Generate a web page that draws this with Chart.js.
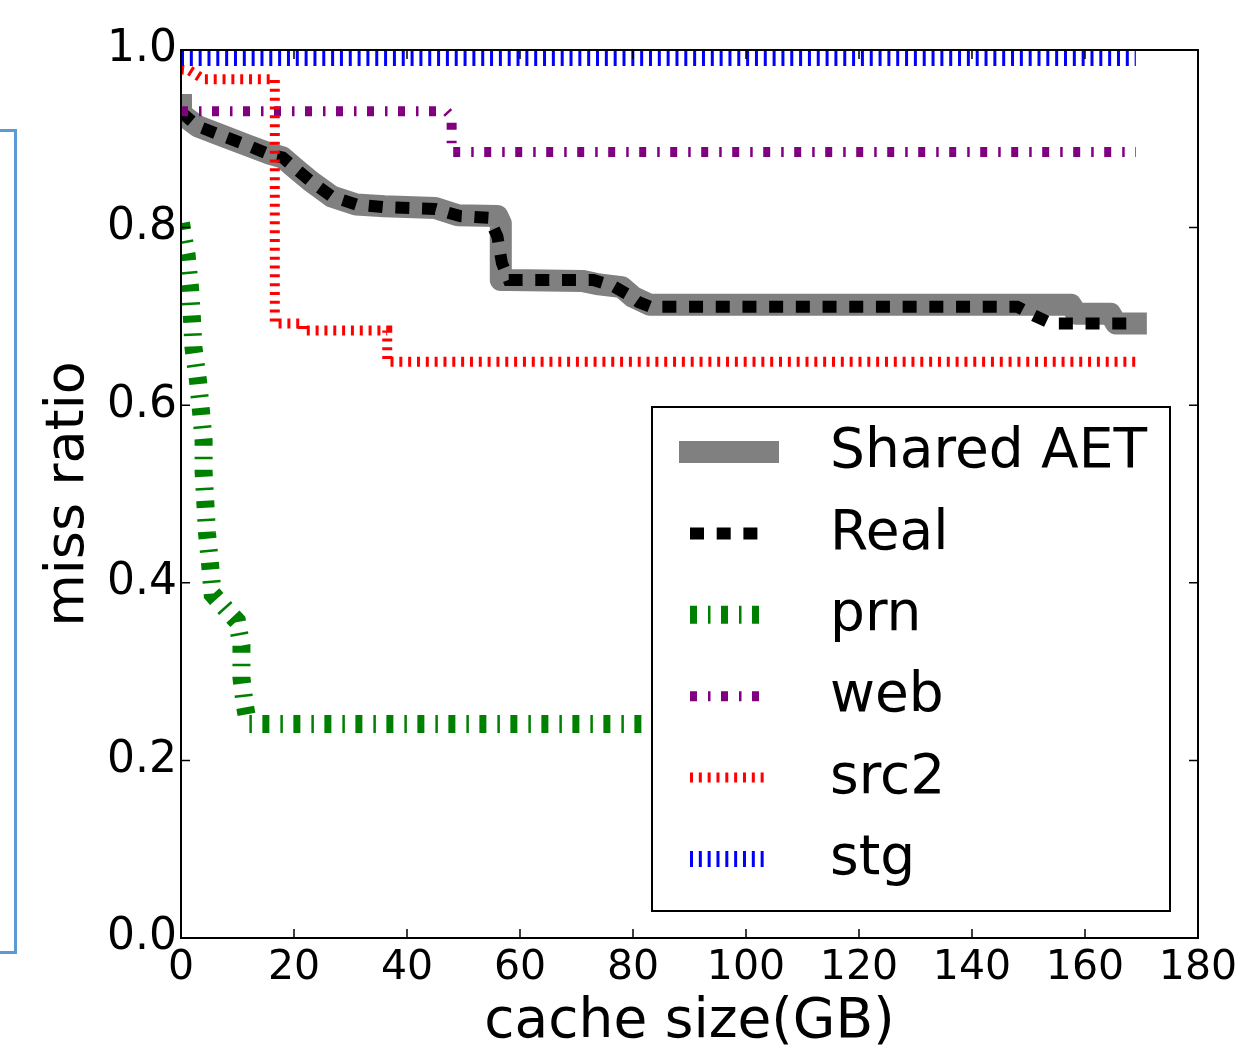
<!DOCTYPE html>
<html lang="en">
<head>
    <meta charset="UTF-8">
    <title>Miss ratio vs cache size</title>
    <script src="https://cdn.jsdelivr.net/npm/chart.js"></script>
    <style>
        body {
            margin: 0;
            background: #fff;
        }
        #wrap {
            position: relative;
            width: 1244px;
            height: 1050px;
            overflow: hidden;
        }
        #bracket {
            position: absolute;
            left: -3px;
            top: 129px;
            width: 14px;
            height: 819px;
            border: 3px solid #5b9bd5;
        }
        #missChart {
            position: absolute;
            left: 0;
            top: 0;
        }
    </style>
</head>
<body>
<div id="wrap">
    <div id="bracket"></div>
    <canvas id="missChart" width="1244" height="1050"></canvas>
</div>

<script>
    // tick labels
    const xTicks = [0, 20, 40, 60, 80, 100, 120, 140, 160, 180];
    const yTickLabels = ['0.0', '0.2', '0.4', '0.6', '0.8', '1.0'];

    // Shared AET (gray band)
    const aetX = [0, 0, 3, 7.5, 11.6, 15.8, 18, 20, 23, 26.7, 31, 36, 45, 49, 56, 56.6, 56.6, 58, 71, 74, 78, 80, 83, 157.5, 158.5, 164.5, 165.5, 169];
    const aetY = [0.938, 0.928, 0.914, 0.903, 0.893, 0.883, 0.879, 0.868, 0.852, 0.835, 0.826, 0.824, 0.822, 0.814, 0.813, 0.805, 0.741, 0.741, 0.740, 0.736, 0.733, 0.722, 0.713, 0.713, 0.703, 0.703, 0.692, 0.692];

    // Real
    const realX = [0, 3, 7.5, 11.6, 15.8, 18, 20, 23, 26.7, 31, 36, 45, 49.4, 54.5, 56, 56.8, 58, 73, 76.5, 79, 81, 83, 148, 151, 154, 169];
    const realY = [0.930, 0.914, 0.903, 0.893, 0.882, 0.879, 0.868, 0.852, 0.835, 0.826, 0.823, 0.821, 0.813, 0.811, 0.790, 0.760, 0.741, 0.741, 0.734, 0.725, 0.716, 0.711, 0.711, 0.701, 0.692, 0.692];

    // prn
    const prnX = [0, 1.0, 1.6, 1.9, 2.2, 3.0, 3.5, 4.0, 4.0, 4.3, 4.6, 5.1, 5.6, 8, 9.9, 10.7, 10.7, 11.3, 11.9, 169];
    const prnY = [0.805, 0.769, 0.732, 0.702, 0.665, 0.628, 0.596, 0.560, 0.525, 0.491, 0.456, 0.424, 0.387, 0.370, 0.357, 0.329, 0.293, 0.262, 0.241, 0.241];

    // web
    const webX = [0, 47, 47.9, 47.9, 169];
    const webY = [0.931, 0.931, 0.925, 0.885, 0.885];

    // src2
    const src2X = [0, 1.5, 4, 16.6, 16.6, 21.5, 21.5, 36.5, 36.5, 169];
    const src2Y = [0.978, 0.977, 0.967, 0.967, 0.692, 0.692, 0.684, 0.684, 0.649, 0.649];

    // stg
    const stgX = [0, 169];
    const stgY = [0.991, 0.991];

    function pts(xs, ys) {
        return xs.map((x, i) => ({ x: x, y: ys[i] }));
    }

    const series = [
        { label: 'Shared AET', data: pts(aetX, aetY), color: '#808080', width: 22, dash: [], cap: 'square', join: 'round' },
        { label: 'Real', data: pts(realX, realY), color: '#000000', width: 12, dash: [14, 12.7], cap: 'butt', join: 'miter' },
        { label: 'prn', data: pts(prnX, prnY), color: '#008000', width: 18, dash: [7, 11, 2.5, 10.5], cap: 'butt', join: 'miter' },
        { label: 'web', data: pts(webX, webY), color: '#800080', width: 10, dash: [7, 11, 2.5, 10.5], cap: 'butt', join: 'miter' },
        { label: 'src2', data: pts(src2X, src2Y), color: '#ff0000', width: 10, dash: [3, 5.83], cap: 'butt', join: 'miter' },
        { label: 'stg', data: pts(stgX, stgY), color: '#0000ff', width: 16, dash: [3, 5.83], cap: 'butt', join: 'miter' }
    ];

    const FONT = 'DejaVu Sans';

    // frame, inner ticks and the boxed legend drawn over the lines
    const framePlugin = {
        id: 'frame',
        afterDatasetsDraw(chart) {
            const ctx = chart.ctx;
            const ca = chart.chartArea;
            const xs = chart.scales.x, ys = chart.scales.y;
            ctx.save();
            ctx.setLineDash([]);
            ctx.strokeStyle = '#000';

            // inner ticks on all four sides
            ctx.lineWidth = 1.5;
            ctx.beginPath();
            xs.ticks.forEach(t => {
                const px = xs.getPixelForValue(t.value);
                ctx.moveTo(px, ca.bottom); ctx.lineTo(px, ca.bottom - 9);
                ctx.moveTo(px, ca.top); ctx.lineTo(px, ca.top + 9);
            });
            ys.ticks.forEach(t => {
                const py = ys.getPixelForValue(t.value);
                ctx.moveTo(ca.left, py); ctx.lineTo(ca.left + 9, py);
                ctx.moveTo(ca.right, py); ctx.lineTo(ca.right - 9, py);
            });
            ctx.stroke();

            ctx.lineWidth = 2;
            ctx.strokeRect(ca.left, ca.top, ca.right - ca.left, ca.bottom - ca.top);

            // legend
            const lx = ca.right - 546, ly = ca.top + 357, lw = 518, lh = 504;
            ctx.fillStyle = '#fff';
            ctx.fillRect(lx, ly, lw, lh);
            ctx.lineWidth = 2;
            ctx.strokeRect(lx, ly, lw, lh);

            ctx.font = '55px "' + FONT + '"';
            ctx.textBaseline = 'middle';
            ctx.textAlign = 'left';
            series.forEach((s, i) => {
                const cy = ly + 45 + i * 81.4;
                ctx.beginPath();
                ctx.moveTo(lx + 38, cy);
                ctx.lineTo(lx + 116, cy);
                ctx.setLineDash(s.dash);
                ctx.lineCap = s.cap;
                ctx.lineWidth = s.width;
                ctx.strokeStyle = s.color;
                ctx.stroke();
                ctx.setLineDash([]);
                ctx.fillStyle = '#000';
                ctx.fillText(s.label, lx + 178, cy + 1);
            });
            ctx.restore();
        }
    };

    const ctx = document.getElementById('missChart').getContext('2d');
    const missChart = new Chart(ctx, {
        type: 'scatter',
        data: {
            datasets: series.map((s, i) => ({
                label: s.label,
                data: s.data,
                showLine: true,
                borderColor: s.color,
                backgroundColor: s.color,
                borderWidth: s.width,
                borderDash: s.dash,
                borderCapStyle: s.cap,
                borderJoinStyle: s.join,
                pointRadius: 0,
                tension: 0,
                fill: false,
                clip: 0,
                order: series.length - i
            }))
        },
        options: {
            responsive: false,
            animation: false,
            events: [],
            layout: { padding: { top: 50, right: 46, bottom: 0, left: 0 } },
            plugins: {
                legend: { display: false },
                tooltip: { enabled: false }
            },
            scales: {
                x: {
                    type: 'linear',
                    min: 0,
                    max: 180,
                    afterBuildTicks: s => { s.ticks = xTicks.map(v => ({ value: v })); },
                    ticks: {
                        font: { family: FONT, size: 41 },
                        color: '#000',
                        padding: 6,
                        maxRotation: 0,
                        autoSkip: false
                    },
                    grid: { display: false, drawTicks: false },
                    border: { display: false },
                    title: {
                        display: true,
                        text: 'cache size(GB)',
                        color: '#000',
                        font: { family: FONT, size: 55, lineHeight: 1 },
                        padding: { top: 0, bottom: 0 }
                    },
                    afterFit: s => { s.height = 112; }
                },
                y: {
                    min: 0,
                    max: 1,
                    afterBuildTicks: s => { s.ticks = yTickLabels.map(v => ({ value: Number(v) })); },
                    ticks: {
                        font: { family: FONT, size: 44 },
                        color: '#000',
                        padding: 4,
                        callback: (v, i) => yTickLabels[i]
                    },
                    grid: { display: false, drawTicks: false },
                    border: { display: false },
                    title: {
                        display: true,
                        text: 'miss ratio',
                        color: '#000',
                        font: { family: FONT, size: 54, lineHeight: 1 },
                        padding: { top: 42, bottom: 0 }
                    },
                    afterFit: s => { s.width = 181; }
                }
            }
        },
        plugins: [framePlugin]
    });
</script>
</body>
</html>
